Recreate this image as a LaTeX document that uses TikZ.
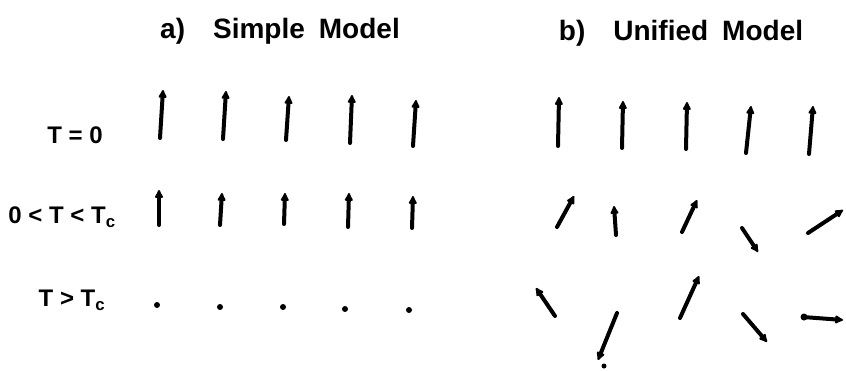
\documentclass[tikz,border=0pt]{standalone}
\usepackage{fontspec}
\setmainfont{Liberation Sans}
\usetikzlibrary{arrows.meta}

\begin{document}
\begin{tikzpicture}[
            x=1pt, y=-1pt,
            title/.style={font=\fontsize{28}{32}\selectfont\bfseries, inner sep=0pt},
            label/.style={font=\fontsize{24}{28}\selectfont\bfseries, inner sep=0pt},
            spin/.style={line width=4pt, line cap=round, -{Latex[length=10pt, width=10pt, round]}},
            dot/.style={circle, fill=black, minimum size=6pt, inner sep=0pt}
            ]
            \useasboundingbox (0,0) rectangle (846,370);

            \node[title] (ta) at (280,31) {a)\quad Simple\enspace Model};
            \node[title] (tb) at (681,33) {b)\quad Unified\enspace Model};

            \node[label] (l0) at (75,135) {T = 0};
            \node[label] (l1) at (62,217) {0 < T < T\textsubscript{c}};
            \node[label] (l2) at (72,300) {T > T\textsubscript{c}};

            % simple model
            \draw[spin] (160,138) -- (163,90);
            \draw[spin] (223,139) -- (226,91);
            \draw[spin] (286,140) -- (289,96);
            \draw[spin] (350,143) -- (352,95);
            \draw[spin] (413,146) -- (416,100);

            \draw[spin] (159,225) -- (159,190);
            \draw[spin] (220,225) -- (222,193);
            \draw[spin] (284,224) -- (285,193);
            \draw[spin] (348,227) -- (349,193);
            \draw[spin] (412,228) -- (413,196);

            \node[dot] (d1) at (157,305) {};
            \node[dot] (d2) at (220,307) {};
            \node[dot] (d3) at (283,307) {};
            \node[dot] (d4) at (345,309) {};
            \node[dot] (d5) at (409,310) {};

            % unified model
            \draw[spin] (558,146) -- (559,97);
            \draw[spin] (622,148) -- (623,101);
            \draw[spin] (686,149) -- (687,102);
            \draw[spin] (746,153) -- (751,106);
            \draw[spin] (809,154) -- (813,106);

            \draw[spin] (557,227) -- (574,196);
            \draw[spin] (616,235) -- (614,206);
            \draw[spin] (682,232) -- (697,200);
            \draw[spin] (742,228) -- (758,252);
            \draw[spin] (808,233) -- (843,210);

            \draw[spin] (555,316) -- (536,288);
            \draw[spin] (617,313) -- (598,360);
            \draw[spin] (680,318) -- (699,276);
            \draw[spin] (743,314) -- (767,342);
            \draw[spin] (803,317) -- (843,320);

            \node[dot, minimum size=5pt] (e1) at (604,366) {};
            \node[dot, minimum size=7pt] (e2) at (804,317) {};

\end{tikzpicture}
\end{document}
